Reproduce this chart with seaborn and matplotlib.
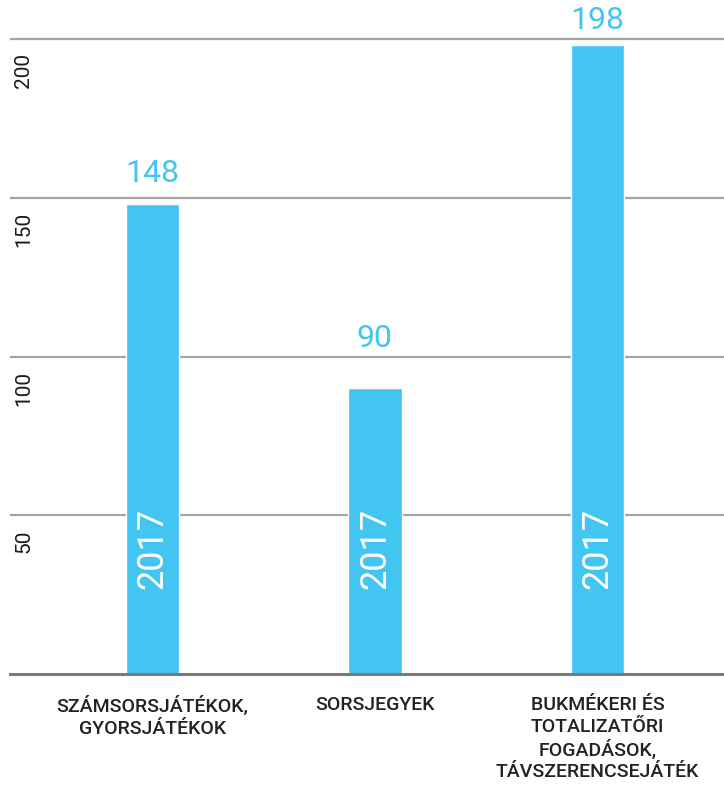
import matplotlib
matplotlib.use("Agg")
import matplotlib.pyplot as plt
import matplotlib.transforms as mtransforms
import seaborn as sns
import pandas as pd

# data
categories = ["SZÁMSORSJÁTÉKOK,\nGYORSJÁTÉKOK",
              "SORSJEGYEK",
              "BUKMÉKERI ÉS\nTOTALIZATŐRI\nFOGADÁSOK,\nTÁVSZERENCSEJÁTÉK"]
values = [148, 90, 198]
years = ["2017", "2017", "2017"]
yticks = [50, 100, 150, 200]
label_gap = [11.5, 25.5, 7.5]   # points between bar top and value label

blue = "#42c5f1"

sns.set_style("white")
plt.rcParams['font.family'] = ['Roboto', 'DejaVu Sans']

df = pd.DataFrame({"cat": categories, "val": values})

fig = plt.figure(figsize=(7.24, 7.90), dpi=100)
ax = fig.add_axes([10 / 724, 116 / 790, 714 / 724, 674 / 790])

sns.barplot(data=df, x="cat", y="val", color=blue, saturation=1,
            width=0.24, ax=ax, zorder=2)

ax.set_xlim(-0.640, 2.569)
ax.set_ylim(0, 212.3)
ax.set_xlabel("")
ax.set_ylabel("")

# grid
ax.set_yticks(yticks)
ax.yaxis.grid(True, color="#a3a3a3", linewidth=1.6)
ax.set_axisbelow(True)
ax.tick_params(axis="both", length=0)
ax.set_yticklabels([])
for s in ["top", "right", "left"]:
    ax.spines[s].set_visible(False)
ax.spines["bottom"].set_color("#7a7a7a")
ax.spines["bottom"].set_linewidth(2.2)
ax.spines["bottom"].set_zorder(5)

# rotated y labels just under each gridline
off = mtransforms.offset_copy(ax.get_yaxis_transform(), fig=fig, x=14, y=-14, units="dots")
for t in yticks:
    ax.text(0, t, str(t), rotation=90, ha="center", va="top", fontsize=15,
            color="#1a1a1a", transform=off)

# x labels
ax.set_xticks(range(len(categories)))
ax.set_xticklabels(categories, fontsize=14, fontweight="medium",
                   color="#222222", linespacing=1.25)
ax.tick_params(axis="x", pad=16)

# value labels on top
for bar, v, gap in zip(ax.containers[0], values, label_gap):
    ax.annotate(str(v), (bar.get_x() + bar.get_width() / 2, bar.get_height()),
                xytext=(0, gap), textcoords="offset points", ha="center",
                va="bottom", fontsize=23, color=blue)

# year inside the bars
for i, y in enumerate(years):
    ax.text(i, 39.5, y, rotation=90, ha="center", va="center", fontsize=26,
            fontweight="normal", color="white", zorder=4)

fig.savefig("out.png", dpi=100)
